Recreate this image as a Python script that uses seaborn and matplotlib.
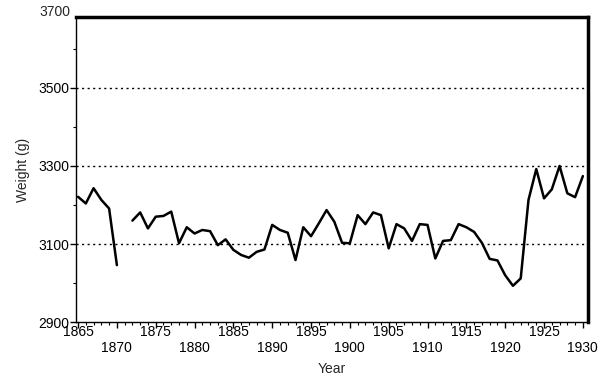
import numpy as np
import pandas as pd
import matplotlib
matplotlib.use("Agg")
import matplotlib.pyplot as plt
import seaborn as sns
from matplotlib.ticker import MultipleLocator

# birth weight by year, two segments (no data for 1871)
years_early = [1865, 1866, 1867, 1868, 1869, 1870]
weight_early = [3221, 3204, 3243, 3213, 3191, 3046]

years_late = list(range(1872, 1931))
weight_late = [
    3160, 3181, 3140, 3170, 3172, 3183, 3102, 3143, 3127, 3136,  # 1872-1881
    3133, 3097, 3112, 3085, 3072, 3065, 3080, 3086, 3149, 3136,  # 1882-1891
    3129, 3059, 3143, 3120, 3153, 3187, 3157, 3103, 3102, 3174,  # 1892-1901
    3151, 3181, 3174, 3089, 3151, 3140, 3108, 3151, 3149, 3063,  # 1902-1911
    3108, 3110, 3151, 3143, 3131, 3103, 3062, 3058, 3020, 2993,  # 1912-1921
    3012, 3213, 3292, 3217, 3240, 3300, 3230, 3220, 3274,        # 1922-1930
]

grid_levels = [3100, 3300, 3500]
y_major = [2900, 3100, 3300, 3500]
top_label = 3700
x_major = list(range(1865, 1931, 5))
x_labels = [str(y) if i % 2 == 0 else "\n" + str(y) for i, y in enumerate(x_major)]

df = pd.DataFrame({
    "year": years_early + years_late,
    "weight": weight_early + weight_late,
    "segment": [0] * len(years_early) + [1] * len(years_late),
})

sns.set_style("ticks")
plt.rcParams["font.family"] = ["Liberation Sans", "DejaVu Sans"]
plt.rcParams["font.size"] = 10

fig = plt.figure(figsize=(6.04, 3.83), dpi=100)
ax = fig.add_axes([0.126, 0.159, 0.848, 0.797])

for lvl in grid_levels:
    ax.axhline(lvl, color="black", linestyle=(0, (1.5, 2.5)), linewidth=1.0, zorder=1)

sns.lineplot(data=df, x="year", y="weight", units="segment", estimator=None,
             color="black", linewidth=1.8, ax=ax, zorder=3)

ax.set_xlim(1864.75, 1930.7)
ax.set_ylim(2900, 3682)
ax.set_yticks(y_major)
ax.yaxis.set_minor_locator(MultipleLocator(100))
ax.set_xticks(x_major)
ax.set_xticklabels(x_labels)
ax.xaxis.set_minor_locator(MultipleLocator(1))

# the top label sits just above the frame in the original
ax.text(-0.012, 3694, str(top_label), transform=ax.get_yaxis_transform(),
        ha="right", va="center", fontsize=10, clip_on=False)

ax.tick_params(axis="y", which="major", direction="out", length=4, width=1,
               color="black", labelsize=10, labelcolor="black", pad=1)
ax.tick_params(axis="x", which="major", direction="out", length=4, width=1,
               color="black", labelsize=10, labelcolor="black", pad=-2)
ax.tick_params(axis="both", which="minor", direction="out", length=2.5, width=0.8,
               color="black")

ax.spines["left"].set_linewidth(1.0)
ax.spines["bottom"].set_linewidth(1.0)
ax.spines["top"].set_linewidth(2.5)
ax.spines["right"].set_linewidth(2.5)
for s in ax.spines.values():
    s.set_color("black")
    s.set_visible(True)

ax.set_xlabel("Year", fontsize=10, labelpad=5)
ax.set_ylabel("Weight (g)", fontsize=10, labelpad=6)

fig.savefig("out.png", dpi=100)
